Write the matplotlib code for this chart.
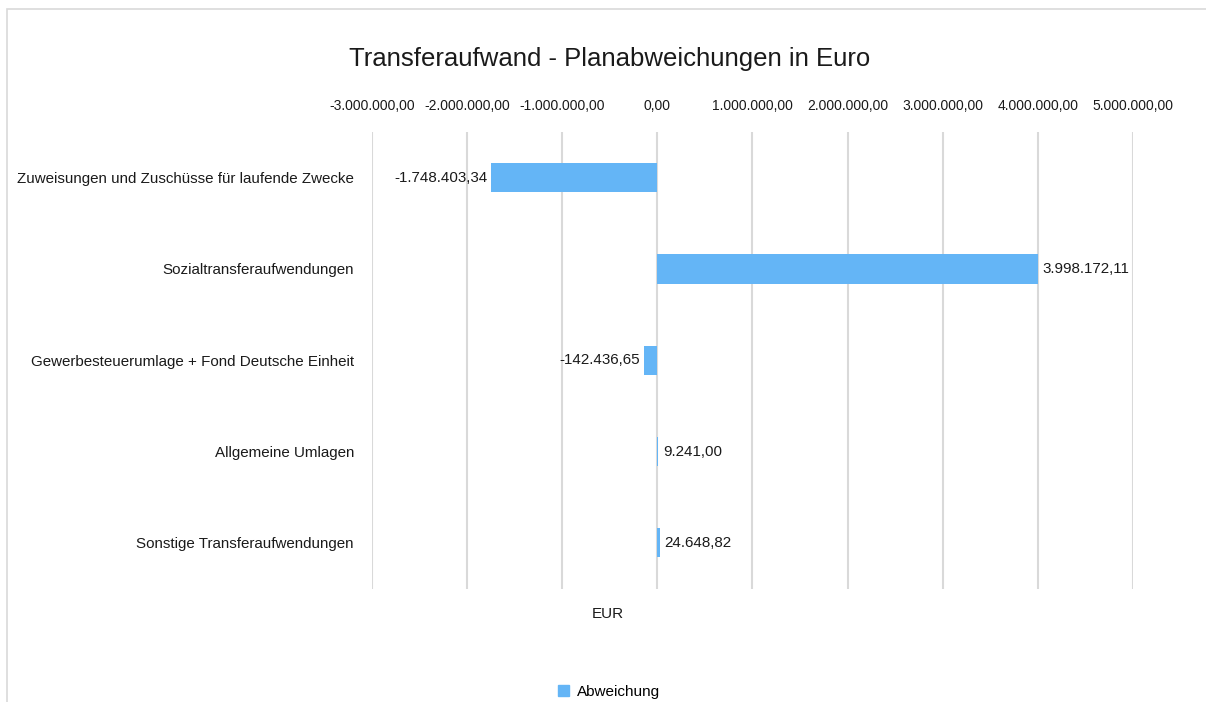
import matplotlib.pyplot as plt
from matplotlib.patches import Rectangle

plt.rcParams['font.family'] = ['Liberation Sans', 'DejaVu Sans']

categories = ['Zuweisungen und Zuschüsse für laufende Zwecke',
              'Sozialtransferaufwendungen',
              'Gewerbesteuerumlage + Fond Deutsche Einheit',
              'Allgemeine Umlagen',
              'Sonstige Transferaufwendungen']
values = [-1748403.34, 3998172.11, -142436.65, 9241.00, 24648.82]
x_ticks = [-3e6, -2e6, -1e6, 0, 1e6, 2e6, 3e6, 4e6, 5e6]


def de_format(v):
    s = f"{v:,.2f}"
    return s.replace(',', 'X').replace('.', ',').replace('X', '.')


W, H = 1206, 702
fig = plt.figure(figsize=(W / 100, H / 100), dpi=100)
ax = fig.add_axes([372 / W, 1 - 588.5 / H, (1133 - 372) / W, (588.5 - 132) / H])

bar_color = '#64B5F6'
text_color = '#1a1a1a'
ypos = list(range(len(categories)))
ax.barh(ypos, values, height=0.32, color=bar_color, zorder=3)

for y, v in zip(ypos, values):
    if v < 0:
        ax.text(v - 40000, y, de_format(v), ha='right', va='center', fontsize=10.9, color=text_color, zorder=4)
    else:
        ax.text(v + 50000, y, de_format(v), ha='left', va='center', fontsize=10.9, color=text_color, zorder=4)

ax.set_xlim(-3e6, 5e6)
ax.set_ylim(len(categories) - 0.5, -0.5)
ax.set_xticks(x_ticks)
ax.set_xticklabels([de_format(t) for t in x_ticks], fontsize=10, color=text_color)
ax.xaxis.tick_top()
ax.tick_params(axis='x', length=0, pad=14)
ax.set_yticks(ypos)
ax.set_yticklabels(categories, fontsize=10.9, color=text_color)
ax.tick_params(axis='y', length=0, pad=13)
ax.grid(axis='x', color='#D9D9D9', linewidth=1.5, zorder=0)
for s in ax.spines.values():
    s.set_visible(False)

fig.text(610 / W, 1 - 59 / H, 'Transferaufwand - Planabweichungen in Euro',
         ha='center', va='center', fontsize=18.5, color=text_color)
fig.text(608 / W, 1 - 614 / H, 'EUR', ha='center', va='center', fontsize=11, color=text_color)

fig.legend(handles=[Rectangle((0, 0), 1, 1, color=bar_color)], labels=['Abweichung'],
           loc='center', bbox_to_anchor=(609 / W, 1 - 692 / H), frameon=False,
           fontsize=11, handlelength=0.7, handleheight=0.7, handletextpad=0.5)

fig.patches.append(Rectangle((7 / W, -0.1), 1.2, 1 - 9 / H + 0.1, transform=fig.transFigure,
                             fill=False, edgecolor='#D9D9D9', linewidth=1.2))

fig.savefig('out.png', dpi=100)
